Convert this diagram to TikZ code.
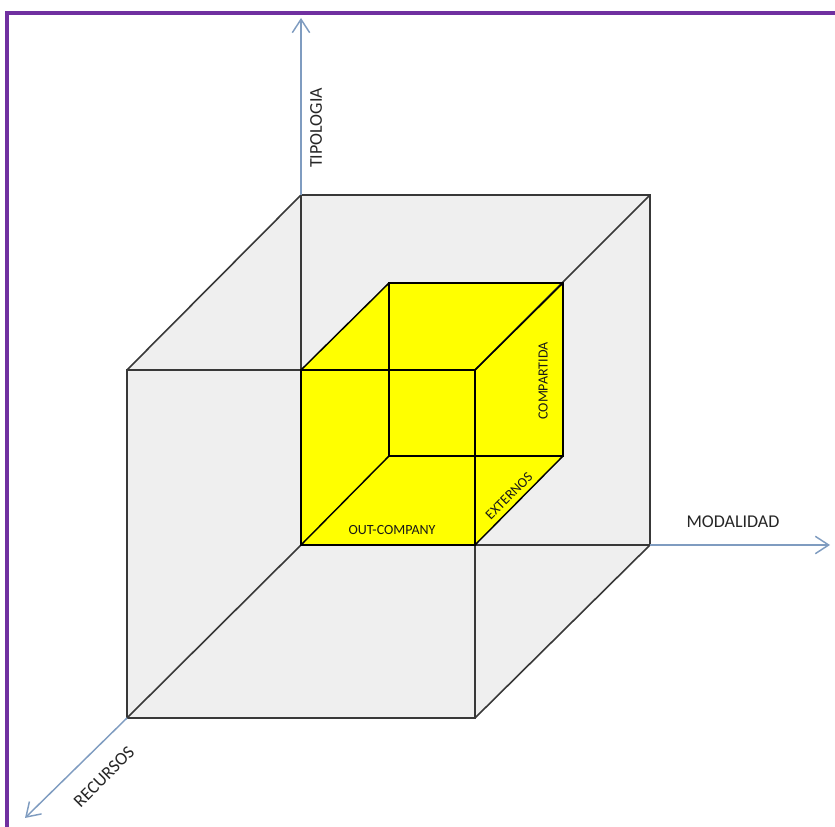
\documentclass[tikz,border=0pt]{standalone}
\usepackage{fontspec}
\setmainfont{Carlito}
\usetikzlibrary{arrows.meta}
\definecolor{framepurple}{HTML}{7030A0}
\definecolor{axisblue}{HTML}{7F9CC0}
\definecolor{boxgray}{HTML}{EFEFEF}
\definecolor{boxyellow}{HTML}{FFFF00}
\definecolor{edgegray}{HTML}{383838}
\tikzset{
  axisline/.style={axisblue, line width=1.1pt, -{Straight Barb[length=10pt,width=13pt,line width=1.1pt]}},
  bigedge/.style={edgegray, line width=1.2pt},
  smalledge/.style={black, line width=1.1pt},
  frontedge/.style={black, line width=2.2pt, line join=miter},
  axislabel/.style={text=black!85, font=\fontsize{13.5}{15}\selectfont, inner sep=0pt},
  celllabel/.style={text=black!90, font=\fontsize{10.5}{12}\selectfont, inner sep=0pt}
}
\begin{document}
\begin{tikzpicture}[x=0.75pt,y=0.75pt]
  \useasboundingbox (0,0) rectangle (835,827);
  % corners of the large cube
  \coordinate (F1) at (127,109); \coordinate (F2) at (475,109);
  \coordinate (F3) at (475,457); \coordinate (F4) at (127,457);
  \coordinate (B1) at (301,282); \coordinate (B2) at (650,282);
  \coordinate (B3) at (650,632); \coordinate (B4) at (301,632);
  % corners of the yellow cell
  \coordinate (y1) at (301,282); \coordinate (y2) at (475,282);
  \coordinate (y3) at (475,457); \coordinate (y4) at (301,457);
  \coordinate (z1) at (389,371); \coordinate (z2) at (563,371);
  \coordinate (z3) at (563,544); \coordinate (z4) at (389,544);
  % axis ends
  \coordinate (tipEnd) at (301,809);
  \coordinate (modEnd) at (830,282);
  \coordinate (recEnd) at (25,9);

  \draw[framepurple, line width=3pt] (7,0) -- (7,814) -- (835,814);

  \fill[boxgray] (F1) -- (F2) -- (B2) -- (B3) -- (B4) -- (F4) -- cycle;
  \fill[boxyellow] (y1) -- (y2) -- (z2) -- (z3) -- (z4) -- (y4) -- cycle;

  \draw[bigedge] (F1) rectangle (F3);
  \draw[bigedge] (B1) rectangle (B3);
  \draw[bigedge] (F1) -- (B1) (F2) -- (B2) (F3) -- (B3) (F4) -- (B4);

  \draw[smalledge] (z1) rectangle (z3);
  \draw[smalledge] (y1) -- (z1) (y2) -- (z2) (y3) -- (z3) (y4) -- (z4);
  \draw[frontedge] (y1) rectangle (y3);

  \draw[axisline] (B4) -- (tipEnd);
  \draw[axisline] (B2) -- (modEnd);
  \draw[axisline] (F1) -- (recEnd);

  \node[axislabel, rotate=90] (tipologia) at (316,699) {TIPOLOGIA};
  \node[axislabel] (modalidad) at (733,305) {MODALIDAD};
  \node[axislabel, rotate=45] (recursos) at (104,50) {RECURSOS};
  \node[celllabel] (outcompany) at (392,297) {OUT-COMPANY};
  \node[celllabel, rotate=45] (externos) at (509,331) {EXTERNOS};
  \node[celllabel, rotate=90] (compartida) at (543,446) {COMPARTIDA};
\end{tikzpicture}
\end{document}
